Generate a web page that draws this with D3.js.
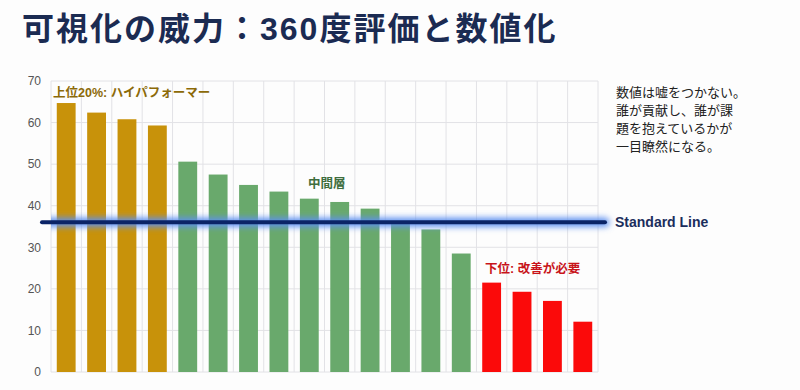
<!DOCTYPE html>
<html>
<head>
<meta charset="utf-8">
<script src="https://cdn.jsdelivr.net/npm/d3@7"></script>
<style>
  body { margin: 0; background: #fff; font-family: "Liberation Sans", "Noto Sans CJK JP", sans-serif; }
  #chart { width: 800px; height: 390px; }
</style>
</head>
<body>
<div id="chart"></div>
<script>
// bar values, high to low
const scores = [64.7, 62.4, 60.8, 59.3, 50.6, 47.5, 45.0, 43.4, 41.7, 40.9, 39.3, 35.6, 34.3, 28.5, 21.5, 19.3, 17.1, 12.1];
// group of each bar: top / mid / low
const groups = ["top", "top", "top", "top", "mid", "mid", "mid", "mid", "mid", "mid", "mid", "mid", "mid", "mid", "low", "low", "low", "low"];
const yTicks = [0, 10, 20, 30, 40, 50, 60, 70];
const standardValue = 36;
const noteLines = ["数値は嘘をつかない。", "誰が貢献し、誰が課", "題を抱えているかが", "一目瞭然になる。"];

const groupColors = { top: "#c8920a", mid: "#69a96c", low: "#fb0a0a" };

let svg = d3.select("#chart").append("svg")
    .attr("width", 800)
    .attr("height", 390);

svg.append("rect").attr("width", 800).attr("height", 390).attr("fill", "#fdfdfd");

// glow filter for the standard line (user space, the line has no height)
let defs = svg.append("defs");
defs.append("filter").attr("id", "glow")
    .attr("filterUnits", "userSpaceOnUse")
    .attr("x", 0).attr("y", 0).attr("width", 800).attr("height", 390)
    .append("feGaussianBlur").attr("stdDeviation", 3);

// title
svg.append("text")
    .attr("x", 22)
    .attr("y", 40)
    .attr("font-size", 32)
    .attr("letter-spacing", 2)
    .attr("font-weight", "bold")
    .attr("fill", "#1b2b52")
    .text("可視化の威力：360度評価と数値化");

let margin = { left: 51, top: 81 };
let width = 547, height = 291;

let g = svg.append("g").attr("transform", "translate(" + margin.left + "," + margin.top + ")");

let x = d3.scaleBand()
    .domain(d3.range(scores.length))
    .range([0, width])
    .paddingInner(0.38)
    .paddingOuter(0.19);

let y = d3.scaleLinear()
    .domain([0, 70])
    .range([height, 0]);

// grid lines
g.selectAll(".hgrid").data(yTicks).enter()
    .append("line").attr("class", "hgrid")
    .attr("x1", 0).attr("x2", width)
    .attr("y1", d => y(d)).attr("y2", d => y(d))
    .attr("stroke", "#e2e2e6").attr("stroke-width", 1);

let step = x.step();
g.selectAll(".vgrid").data(d3.range(scores.length + 1)).enter()
    .append("line").attr("class", "vgrid")
    .attr("x1", d => d * step).attr("x2", d => d * step)
    .attr("y1", 0).attr("y2", height)
    .attr("stroke", "#e2e2e6").attr("stroke-width", 1);

// y axis labels
let yAxis = d3.axisLeft(y).tickValues(yTicks).tickSize(0).tickPadding(10);
g.append("g").call(yAxis)
    .call(a => a.select(".domain").remove())
    .selectAll("text")
    .attr("font-size", 12)
    .attr("font-family", "'Liberation Sans', sans-serif")
    .attr("fill", "#555");

// bars
g.selectAll(".bar").data(scores).enter()
    .append("rect").attr("class", "bar")
    .attr("x", (d, i) => x(i))
    .attr("y", d => y(d))
    .attr("width", x.bandwidth())
    .attr("height", d => height - y(d))
    .attr("fill", (d, i) => groupColors[groups[i]]);

// standard line with glow
let ys = y(standardValue);
g.append("line")
    .attr("x1", -9).attr("x2", width + 7)
    .attr("y1", ys).attr("y2", ys)
    .attr("stroke", "#5d8ff0").attr("stroke-width", 9)
    .attr("stroke-linecap", "round")
    .attr("filter", "url(#glow)");
g.append("line")
    .attr("x1", -9).attr("x2", width + 7)
    .attr("y1", ys).attr("y2", ys)
    .attr("stroke", "#0b2467").attr("stroke-width", 4)
    .attr("stroke-linecap", "round");

g.append("text")
    .attr("x", width + 17)
    .attr("y", ys + 5)
    .attr("font-size", 14)
    .attr("font-weight", "bold")
    .attr("fill", "#1b2d5c")
    .text("Standard Line");

// group labels
g.append("text")
    .attr("x", 2).attr("y", 16)
    .attr("font-size", 12.5).attr("font-weight", "bold")
    .attr("fill", "#8c6a08")
    .text("上位20%: ハイパフォーマー");

g.append("text")
    .attr("x", 257).attr("y", 107)
    .attr("font-size", 12.5).attr("font-weight", "bold")
    .attr("fill", "#3f6e3e")
    .text("中間層");

g.append("text")
    .attr("x", 434).attr("y", 192)
    .attr("font-size", 12.5).attr("font-weight", "bold")
    .attr("fill", "#c8141a")
    .text("下位: 改善が必要");

// note on the right
svg.append("text")
    .attr("x", 616).attr("y", 97)
    .attr("font-size", 13)
    .attr("fill", "#222")
    .selectAll("tspan").data(noteLines).enter()
    .append("tspan")
    .attr("x", 616)
    .attr("dy", (d, i) => i === 0 ? 0 : 18)
    .text(d => d);
</script>
</body>
</html>
